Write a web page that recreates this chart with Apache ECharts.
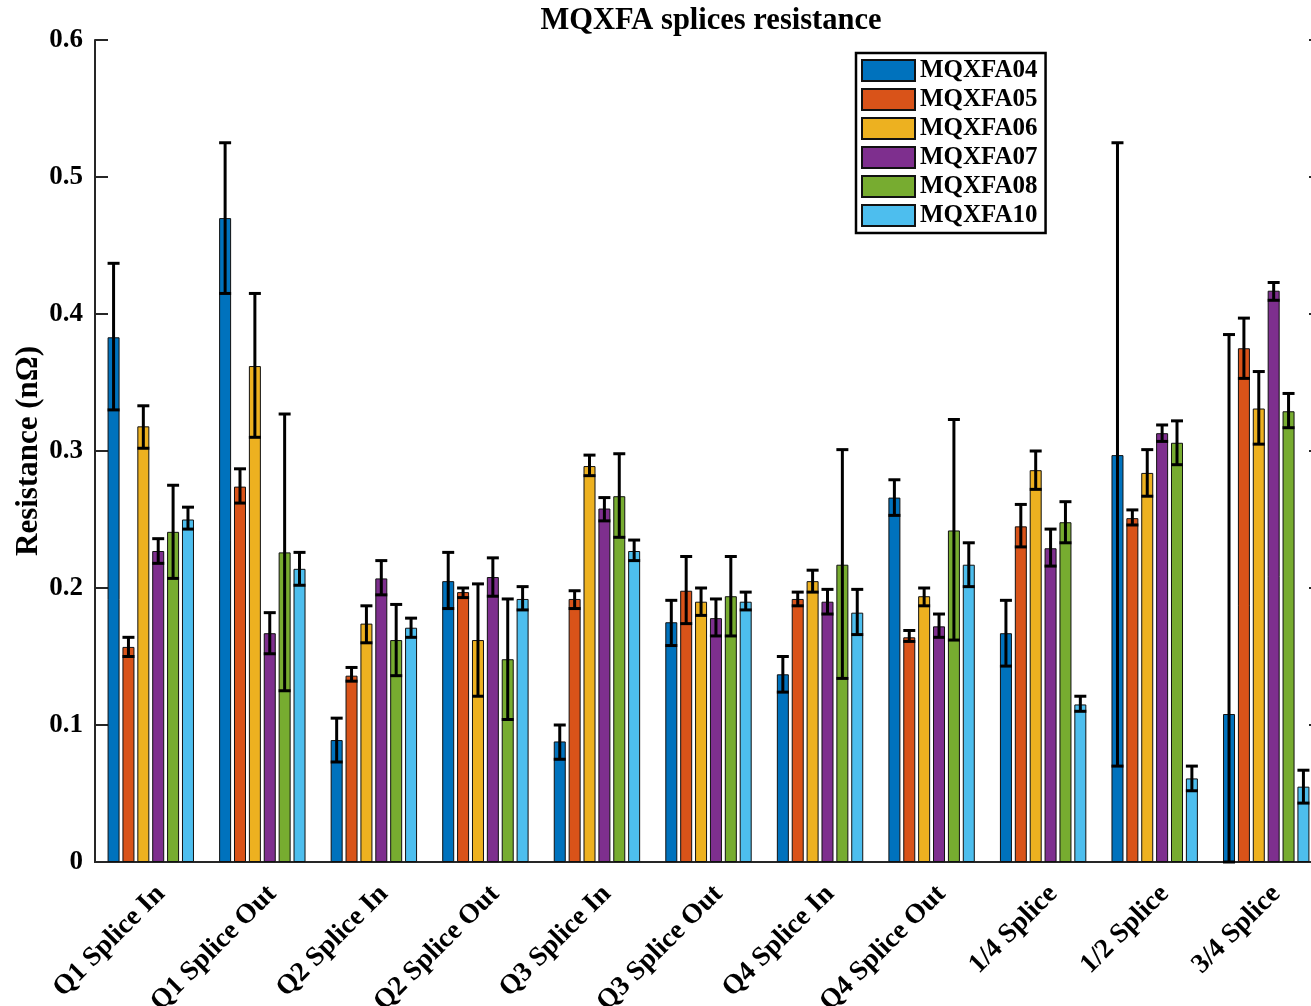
<!DOCTYPE html>
<html>
<head>
<meta charset="utf-8">
<title>MQXFA splices resistance</title>
<script src="https://cdn.jsdelivr.net/npm/echarts@6/dist/echarts.min.js"></script>
<style>
  html, body { margin: 0; padding: 0; background: #fff; overflow: hidden; }
  #wrap { width: 1311px; height: 1006px; overflow: hidden; position: relative; }
  /* the plot box runs slightly past the right edge of the frame */
  #chart { width: 1322px; height: 1006px; position: absolute; left: 0; top: 0; }
</style>
</head>
<body>
<div id="wrap"><div id="chart"></div></div>
<script>
// Splice locations on the category axis
const categories = ['Q1 Splice In', 'Q1 Splice Out', 'Q2 Splice In', 'Q2 Splice Out',
  'Q3 Splice In', 'Q3 Splice Out', 'Q4 Splice In', 'Q4 Splice Out',
  '1/4 Splice', '1/2 Splice', '3/4 Splice'];

const magnets = ['MQXFA04', 'MQXFA05', 'MQXFA06', 'MQXFA07', 'MQXFA08', 'MQXFA10'];

// Mean splice resistance (nΩ) and the lower / upper ends of the error bars
const mqxfa04 = [0.383, 0.470, 0.089, 0.205, 0.088, 0.175, 0.137, 0.266, 0.167, 0.297, 0.108];
const mqxfa04Lo = [0.330, 0.415, 0.073, 0.185, 0.075, 0.158, 0.124, 0.253, 0.143, 0.070, 0.000];
const mqxfa04Hi = [0.437, 0.525, 0.105, 0.226, 0.100, 0.191, 0.150, 0.279, 0.191, 0.525, 0.385];

const mqxfa05 = [0.157, 0.274, 0.136, 0.197, 0.192, 0.198, 0.192, 0.164, 0.245, 0.251, 0.375];
const mqxfa05Lo = [0.150, 0.262, 0.132, 0.193, 0.185, 0.174, 0.187, 0.161, 0.230, 0.246, 0.353];
const mqxfa05Hi = [0.164, 0.287, 0.142, 0.200, 0.198, 0.223, 0.197, 0.169, 0.261, 0.257, 0.397];

const mqxfa06 = [0.318, 0.362, 0.174, 0.162, 0.289, 0.190, 0.205, 0.194, 0.286, 0.284, 0.331];
const mqxfa06Lo = [0.302, 0.310, 0.160, 0.121, 0.282, 0.180, 0.197, 0.187, 0.272, 0.267, 0.305];
const mqxfa06Hi = [0.333, 0.415, 0.187, 0.203, 0.297, 0.200, 0.213, 0.200, 0.300, 0.301, 0.358];

const mqxfa07 = [0.227, 0.167, 0.207, 0.208, 0.258, 0.178, 0.190, 0.172, 0.229, 0.313, 0.417];
const mqxfa07Lo = [0.218, 0.152, 0.195, 0.194, 0.249, 0.165, 0.181, 0.164, 0.216, 0.307, 0.410];
const mqxfa07Hi = [0.236, 0.182, 0.220, 0.222, 0.266, 0.192, 0.199, 0.181, 0.243, 0.319, 0.423];

const mqxfa08 = [0.241, 0.226, 0.162, 0.148, 0.267, 0.194, 0.217, 0.242, 0.248, 0.306, 0.329];
const mqxfa08Lo = [0.207, 0.125, 0.136, 0.104, 0.237, 0.165, 0.134, 0.162, 0.233, 0.290, 0.317];
const mqxfa08Hi = [0.275, 0.327, 0.188, 0.192, 0.298, 0.223, 0.301, 0.323, 0.263, 0.322, 0.342];

const mqxfa10 = [0.250, 0.214, 0.171, 0.192, 0.227, 0.190, 0.182, 0.217, 0.115, 0.061, 0.055];
const mqxfa10Lo = [0.243, 0.202, 0.164, 0.184, 0.220, 0.184, 0.166, 0.201, 0.110, 0.052, 0.043];
const mqxfa10Hi = [0.259, 0.226, 0.178, 0.201, 0.235, 0.197, 0.199, 0.233, 0.121, 0.070, 0.067];

const yTicks = [0, 0.1, 0.2, 0.3, 0.4, 0.5, 0.6];

const means = [mqxfa04, mqxfa05, mqxfa06, mqxfa07, mqxfa08, mqxfa10];
const lows = [mqxfa04Lo, mqxfa05Lo, mqxfa06Lo, mqxfa07Lo, mqxfa08Lo, mqxfa10Lo];
const highs = [mqxfa04Hi, mqxfa05Hi, mqxfa06Hi, mqxfa07Hi, mqxfa08Hi, mqxfa10Hi];

const colors = ['#0072BD', '#D95319', '#EDB120', '#7E2F8E', '#77AC30', '#4DBEEE'];
const FONT = "'Liberation Serif', 'Times New Roman', serif";
const AXIS_COLOR = '#262626';
const BAR_WIDTH = 12;
const BAR_GAP = 0.24;

const chart = echarts.init(document.getElementById('chart'), null, { renderer: 'canvas', width: 1322, height: 1006 });

const barSeries = magnets.map((name, i) => ({
  name: name,
  type: 'bar',
  xAxisIndex: 0,
  yAxisIndex: 0,
  barWidth: BAR_WIDTH,
  barGap: (BAR_GAP * 100) + '%',
  data: means[i],
  itemStyle: { color: colors[i], borderColor: '#111', borderWidth: 1 },
  emphasis: { disabled: true },
  z: 2
}));

// Error bars: vertical whisker with caps, shifted to sit on the matching bar
const errorSeries = magnets.map((name, i) => ({
  name: name,
  type: 'custom',
  xAxisIndex: 0,
  yAxisIndex: 0,
  data: categories.map((c, k) => [k, lows[i][k], highs[i][k]]),
  encode: { x: 0, y: [1, 2] },
  z: 5,
  silent: true,
  renderItem: function (params, api) {
    const k = api.value(0);
    const pLo = api.coord([k, api.value(1)]);
    const pHi = api.coord([k, api.value(2)]);
    const step = BAR_WIDTH * (1 + BAR_GAP);
    const x = pLo[0] + (i - (magnets.length - 1) / 2) * step;
    const half = BAR_WIDTH / 2;
    const style = { stroke: '#000', lineWidth: 3 };
    return {
      type: 'group',
      children: [
        { type: 'line', shape: { x1: x, y1: pHi[1], x2: x, y2: pLo[1] }, style: style },
        { type: 'line', shape: { x1: x - half, y1: pHi[1], x2: x + half, y2: pHi[1] }, style: style },
        { type: 'line', shape: { x1: x - half, y1: pLo[1], x2: x + half, y2: pLo[1] }, style: style }
      ]
    };
  }
}));

const option = {
  animation: false,
  backgroundColor: '#fff',
  color: colors,
  title: {
    text: 'MQXFA splices resistance',
    left: 706,
    top: 1,
    textAlign: 'center',
    textStyle: { fontFamily: FONT, fontWeight: 'bold', fontSize: 30.5, color: '#000' }
  },
  // vertical axis title, placed beside the tick labels
  graphic: [{
    type: 'text',
    x: 29,
    y: 451,
    rotation: Math.PI / 2,
    silent: true,
    style: {
      text: 'Resistance (nΩ)',
      fill: '#000',
      font: "bold 31px 'Liberation Serif', 'Times New Roman', serif",
      textAlign: 'center',
      textVerticalAlign: 'middle'
    }
  }],
  legend: {
    data: magnets,
    orient: 'vertical',
    left: 856,
    top: 53,
    icon: 'rect',
    itemWidth: 53,
    itemHeight: 21,
    itemGap: 4,
    padding: [5, 8, 5, 5],
    backgroundColor: '#fff',
    borderColor: '#000',
    borderWidth: 2.5,
    selectedMode: false,
    textStyle: { fontFamily: FONT, fontWeight: 'bold', fontSize: 25, color: '#000' }
  },
  grid: { left: 95, right: 0, top: 40, bottom: 144, containLabel: false, outerBoundsMode: 'none' },
  xAxis: [
    {
      type: 'category',
      data: categories,
      position: 'bottom',
      axisLine: { lineStyle: { color: AXIS_COLOR, width: 2 } },
      axisTick: { inside: true, alignWithLabel: true, length: 13, lineStyle: { color: AXIS_COLOR, width: 2 } },
      axisLabel: {
        rotate: 45,
        interval: 0,
        margin: 18,
        align: 'right',
        verticalAlign: 'top',
        fontFamily: FONT,
        fontWeight: 'bold',
        fontSize: 27.5,
        color: '#000'
      },
      splitLine: { show: false }
    },
    {
      type: 'category',
      data: categories,
      position: 'top',
      axisLine: { lineStyle: { color: AXIS_COLOR, width: 2 } },
      axisTick: { inside: true, alignWithLabel: true, length: 13, lineStyle: { color: AXIS_COLOR, width: 2 } },
      axisLabel: { show: false },
      splitLine: { show: false }
    }
  ],
  yAxis: [
    {
      type: 'value',
      min: yTicks[0],
      max: yTicks[yTicks.length - 1],
      interval: 0.1,
      position: 'left',
      axisLine: { show: true, lineStyle: { color: AXIS_COLOR, width: 2 } },
      axisTick: { show: true, inside: true, length: 13, lineStyle: { color: AXIS_COLOR, width: 2 } },
      axisLabel: {
        margin: 12,
        fontFamily: FONT,
        fontWeight: 'bold',
        fontSize: 27,
        color: '#000',
        formatter: v => String(Math.round(v * 10) / 10)
      },
      splitLine: { show: false }
    },
    {
      type: 'value',
      min: yTicks[0],
      max: yTicks[yTicks.length - 1],
      interval: 0.1,
      position: 'right',
      axisLine: { show: true, lineStyle: { color: AXIS_COLOR, width: 2 } },
      axisTick: { show: true, inside: true, length: 13, lineStyle: { color: AXIS_COLOR, width: 2 } },
      axisLabel: { show: false },
      splitLine: { show: false }
    }
  ],
  series: barSeries.concat(errorSeries)
};

chart.setOption(option);
</script>
</body>
</html>
